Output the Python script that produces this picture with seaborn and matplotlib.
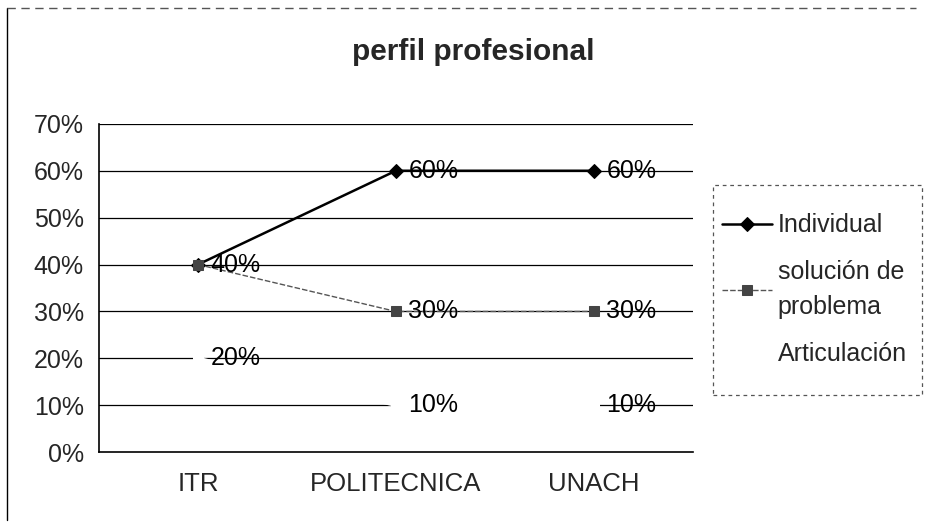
import matplotlib
matplotlib.use("Agg")
import matplotlib.pyplot as plt
import matplotlib.patches as mpatches
from matplotlib.lines import Line2D
import numpy as np
import pandas as pd
import seaborn as sns

# data
categorias = ["ITR", "POLITECNICA", "UNACH"]
individual = [0.40, 0.60, 0.60]
solucion = [0.40, 0.30, 0.30]
articulacion = [0.20, 0.10, 0.10]
series_names = ["Individual", "solución de\nproblema", "Articulación"]
y_ticks = [0.0, 0.1, 0.2, 0.3, 0.4, 0.5, 0.6, 0.7]

sns.set_style("white")
plt.rcParams["font.family"] = ["Liberation Sans", "DejaVu Sans"]
FS = 18

fig = plt.figure(figsize=(9.25, 5.27), dpi=100)
ax = fig.add_axes([0.107, 0.142, 0.642, 0.623])

# gridlines first so the white series can hide them
for t in y_ticks[1:]:
    ax.axhline(t, color="black", lw=0.9, zorder=1)

df = pd.DataFrame({"cat": categorias, "ind": individual, "sol": solucion, "art": articulacion})

sns.lineplot(data=df, x="cat", y="ind", ax=ax, color="black", lw=1.8, marker="D",
             markersize=7, markeredgecolor="black", label=series_names[0], zorder=4, sort=False)
sns.lineplot(data=df, x="cat", y="sol", ax=ax, color="#555555", lw=1.0, linestyle=(0, (4, 1.5)),
             marker="s", markersize=7, markerfacecolor="#444444", markeredgecolor="#444444",
             label=series_names[1], zorder=5, sort=False)
sns.lineplot(data=df, x="cat", y="art", ax=ax, color="white", lw=2.5, marker="s",
             markersize=7, markerfacecolor="white", markeredgecolor="white",
             label=series_names[2], zorder=3, sort=False)

# data labels to the right of each point
for vals in (individual, solucion, articulacion):
    for i, v in enumerate(vals):
        if vals is solucion and i == 0:
            continue
        ax.annotate(f"{int(round(v * 100))}%", (i, v), xytext=(9, 0), textcoords="offset points",
                    va="center", ha="left", fontsize=FS, color="black", zorder=6)

ax.set_xlim(-0.5, 2.5)
ax.set_ylim(0, 0.7)
ax.set_yticks(y_ticks)
ax.set_yticklabels([f"{int(round(t * 100))}%" for t in y_ticks], fontsize=FS)
ax.set_xticks(range(len(categorias)))
ax.set_xticklabels(categorias, fontsize=FS + 0.5)
ax.set_xticks([-0.5, 0.5, 1.5, 2.5], minor=True)
ax.tick_params(axis="x", which="major", length=0, pad=14)
ax.tick_params(axis="x", which="minor", length=5, direction="out", color="black", width=1)
ax.tick_params(axis="y", length=4, direction="out", color="black", width=1, pad=7)
ax.set_xlabel("")
ax.set_ylabel("")

for s in ["top", "right"]:
    ax.spines[s].set_visible(False)
for s in ["left", "bottom"]:
    ax.spines[s].set_color("black")
    ax.spines[s].set_linewidth(1.2)

leg = ax.legend(loc="upper left", bbox_to_anchor=(699 / 925, 1 - 191 / 527),
                bbox_transform=fig.transFigure, frameon=False, fontsize=FS,
                handlelength=2.0, handletextpad=0.25, labelspacing=0.9, borderpad=0.4)
for txt in leg.get_texts():
    txt.set_linespacing(1.6)

# legend frame, drawn by hand so it keeps the taller box of the original
fig.patches.append(mpatches.Rectangle((713 / 925, 1 - 395 / 527), 209 / 925, 210 / 527,
                                      transform=fig.transFigure, fill=False, edgecolor="#555555",
                                      lw=0.9, linestyle=(0, (3, 3))))

fig.text(473 / 925, 0.901, "perfil profesional", ha="center", va="center", fontsize=21.5,
         fontweight="bold")

# outer chart border: left edge solid, top edge broken in the scan
fig.lines.append(Line2D([0.008, 0.008], [0.013, 0.985], transform=fig.transFigure, color="black", lw=1))
fig.lines.append(Line2D([0.008, 0.99], [0.985, 0.985], transform=fig.transFigure, color="#555555",
                        lw=1, linestyle=(0, (6, 4))))

fig.savefig("out.png", dpi=100)
